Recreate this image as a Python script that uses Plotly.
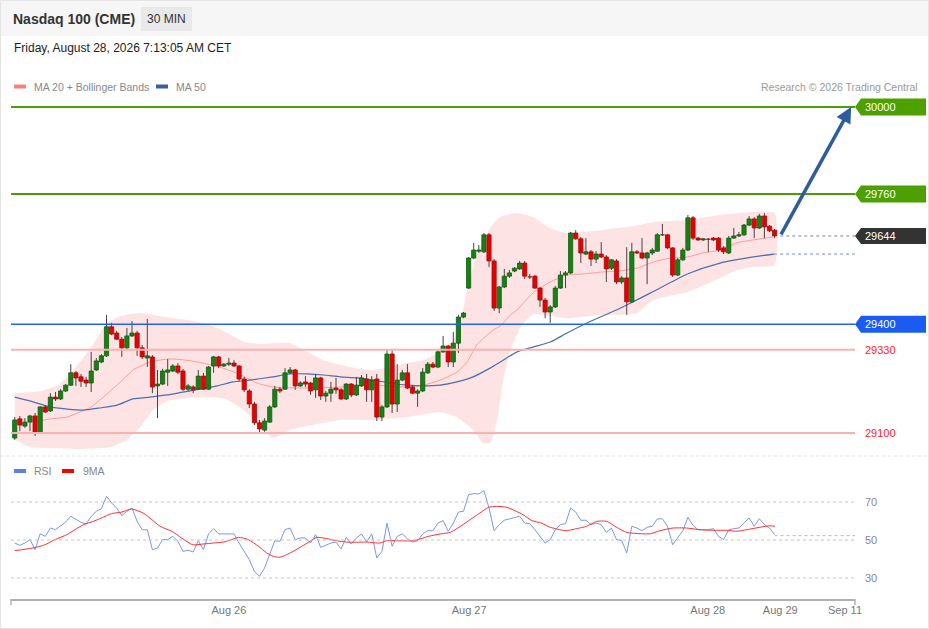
import plotly.graph_objects as go

# ---------------- data ----------------
open_ = [29086, 29139, 29119, 29130, 29147, 29100, 29172, 29161, 29199, 29194,
         29216, 29232, 29266, 29255, 29246, 29238, 29274, 29296, 29313, 29393,
         29376, 29359, 29335, 29368, 29376, 29335, 29307, 29310, 29230, 29235,
         29268, 29271, 29285, 29271, 29221, 29227, 29221, 29257, 29221, 29285,
         29310, 29285, 29290, 29293, 29285, 29249, 29216, 29180, 29128, 29108,
         29130, 29172, 29221, 29221, 29266, 29274, 29230, 29241, 29238, 29219,
         29252, 29202, 29210, 29224, 29219, 29194, 29235, 29205, 29230, 29249,
         29219, 29249, 29144, 29172, 29318, 29180, 29246, 29266, 29227, 29210,
         29216, 29266, 29290, 29282, 29324, 29340, 29296, 29348, 29420, 29500,
         29583, 29602, 29600, 29647, 29575, 29445, 29503, 29533, 29547, 29553,
         29569, 29533, 29533, 29500, 29467, 29434, 29448, 29500, 29536, 29542,
         29652, 29636, 29594, 29600, 29580, 29594, 29586, 29555, 29575, 29517,
         29528, 29462, 29600, 29597, 29583, 29597, 29602, 29647, 29647, 29611,
         29536, 29578, 29605, 29694, 29638, 29633, 29636, 29638, 29638, 29611,
         29597, 29638, 29644, 29647, 29674, 29691, 29666, 29699, 29671, 29660]
high = [29144, 29147, 29141, 29150, 29155, 29174, 29177, 29210, 29213, 29221,
        29235, 29290, 29271, 29263, 29255, 29324, 29307, 29318, 29426, 29404,
        29382, 29365, 29390, 29409, 29382, 29343, 29415, 29315, 29274, 29277,
        29304, 29290, 29293, 29277, 29235, 29232, 29274, 29266, 29285, 29313,
        29313, 29293, 29307, 29301, 29288, 29255, 29221, 29186, 29136, 29141,
        29177, 29230, 29227, 29279, 29282, 29277, 29243, 29257, 29241, 29263,
        29255, 29216, 29241, 29252, 29224, 29238, 29238, 29255, 29260, 29263,
        29257, 29263, 29177, 29329, 29332, 29290, 29274, 29290, 29232, 29221,
        29279, 29296, 29296, 29329, 29368, 29343, 29379, 29426, 29434, 29586,
        29625, 29619, 29652, 29652, 29580, 29506, 29553, 29550, 29558, 29575,
        29575, 29539, 29536, 29503, 29473, 29453, 29506, 29547, 29547, 29655,
        29660, 29641, 29638, 29605, 29602, 29627, 29591, 29580, 29580, 29533,
        29613, 29625, 29605, 29638, 29600, 29611, 29652, 29677, 29649, 29613,
        29583, 29611, 29702, 29699, 29641, 29638, 29638, 29641, 29641, 29616,
        29644, 29666, 29655, 29677, 29699, 29696, 29705, 29707, 29674, 29663]
low = [29081, 29105, 29114, 29105, 29092, 29097, 29155, 29158, 29188, 29191,
       29213, 29230, 29230, 29227, 29227, 29213, 29271, 29293, 29310, 29370,
       29357, 29310, 29332, 29365, 29313, 29304, 29282, 29210, 29141, 29232,
       29230, 29268, 29263, 29216, 29216, 29210, 29219, 29219, 29219, 29266,
       29279, 29282, 29285, 29282, 29243, 29213, 29169, 29122, 29103, 29103,
       29128, 29169, 29210, 29219, 29263, 29219, 29227, 29227, 29205, 29197,
       29191, 29186, 29186, 29208, 29191, 29191, 29199, 29202, 29227, 29186,
       29186, 29133, 29133, 29169, 29155, 29158, 29243, 29221, 29208, 29172,
       29213, 29263, 29279, 29279, 29321, 29282, 29282, 29321, 29417, 29498,
       29580, 29597, 29597, 29558, 29437, 29431, 29500, 29528, 29544, 29550,
       29525, 29525, 29498, 29448, 29417, 29404, 29445, 29498, 29500, 29539,
       29633, 29569, 29591, 29561, 29569, 29583, 29517, 29550, 29511, 29511,
       29426, 29459, 29594, 29580, 29511, 29591, 29600, 29644, 29608, 29531,
       29533, 29575, 29602, 29633, 29630, 29630, 29600, 29630, 29600, 29594,
       29594, 29636, 29641, 29644, 29671, 29638, 29663, 29638, 29655, 29638]
close = [29136, 29122, 29130, 29147, 29100, 29172, 29158, 29199, 29194, 29216,
         29232, 29266, 29252, 29243, 29238, 29271, 29299, 29313, 29393, 29373,
         29359, 29335, 29368, 29376, 29335, 29310, 29313, 29227, 29235, 29271,
         29274, 29285, 29268, 29221, 29230, 29219, 29257, 29221, 29282, 29310,
         29285, 29290, 29293, 29285, 29249, 29219, 29180, 29128, 29111, 29133,
         29172, 29221, 29216, 29266, 29274, 29230, 29238, 29235, 29216, 29252,
         29202, 29210, 29221, 29219, 29194, 29235, 29205, 29232, 29252, 29219,
         29246, 29144, 29172, 29318, 29180, 29246, 29266, 29224, 29210, 29216,
         29268, 29290, 29282, 29324, 29340, 29296, 29348, 29420, 29431, 29583,
         29605, 29605, 29647, 29575, 29445, 29503, 29533, 29542, 29555, 29569,
         29533, 29531, 29500, 29467, 29434, 29448, 29500, 29536, 29542, 29652,
         29636, 29597, 29600, 29580, 29594, 29586, 29553, 29578, 29517, 29528,
         29462, 29600, 29597, 29583, 29597, 29605, 29647, 29649, 29611, 29536,
         29578, 29605, 29694, 29638, 29633, 29636, 29635, 29633, 29605, 29600,
         29638, 29644, 29647, 29674, 29691, 29666, 29699, 29669, 29658, 29644]

bb_up_x = [0, 5.2, 8.5, 11.8, 15.0, 18.3, 21.6, 24.8, 28.1, 31.4,
           36.3, 39.7, 42.8, 45.2, 47.7, 50.6, 54.0, 57.3, 60.5, 63.8,
           67.1, 70.3, 73.6, 76.9, 80.1, 83.4, 86.7, 88.7, 90.6, 93.2,
           95.2, 98.5, 101.6, 105.0, 108.3, 111.4, 114.8, 118.1, 121.2, 125.2,
           131.9, 138.3, 144.8, 149]
bb_up = [29210, 29216, 29232, 29279, 29337, 29406, 29426, 29431, 29423, 29417,
         29406, 29390, 29368, 29351, 29346, 29348, 29348, 29324, 29301, 29288,
         29279, 29274, 29282, 29293, 29301, 29324, 29370, 29495, 29591, 29666,
         29696, 29707, 29696, 29666, 29652, 29655, 29660, 29666, 29671, 29682,
         29688, 29702, 29710, 29707]
bb_lo_x = [0, 3.0, 6.9, 13.4, 18.7, 22.0, 24.6, 27.1, 29.9, 34.4,
           37.9, 41.3, 44.4, 47.7, 50.6, 54.0, 57.3, 60.5, 63.8, 70.3,
           76.9, 83.4, 86.7, 89.9, 91.8, 93.2, 94.6, 95.8, 97.2, 99.1,
           101.6, 108.3, 114.8, 118.7, 122.0, 125.2, 131.9, 138.3, 141.6, 144.8,
           149]
bb_lo = [29081, 29061, 29058, 29056, 29061, 29081, 29116, 29163, 29188, 29197,
         29199, 29194, 29169, 29128, 29086, 29108, 29119, 29128, 29136, 29136,
         29144, 29158, 29144, 29108, 29072, 29072, 29136, 29246, 29329, 29390,
         29428, 29417, 29426, 29426, 29431, 29467, 29489, 29528, 29550, 29558,
         29564]
ma20_x = [3.6, 7.1, 10.3, 11.8, 15.0, 16.7, 18.3, 21.6, 23.2, 24.8,
          26.5, 29.9, 31.4, 34.6, 37.9, 41.3, 44.4, 47.5, 50.6, 57.3,
          63.8, 70.3, 76.9, 80.1, 83.4, 86.7, 88.7, 90.6, 93.8, 95.2,
          97.2, 98.5, 101.6, 105.0, 108.3, 111.4, 114.8, 118.1, 122.0, 125.2,
          128.5, 131.9, 135.0, 138.3, 141.6, 144.8, 148.7]
ma20 = [29130, 29139, 29144, 29152, 29172, 29191, 29210, 29252, 29274, 29285,
        29296, 29304, 29304, 29299, 29290, 29277, 29260, 29238, 29227, 29224,
        29227, 29232, 29227, 29232, 29246, 29268, 29296, 29343, 29384, 29395,
        29426, 29440, 29486, 29517, 29536, 29539, 29544, 29547, 29555, 29572,
        29583, 29586, 29597, 29605, 29625, 29633, 29641]
ma50_x = [0, 3.6, 6.9, 10.3, 13.4, 16.7, 20.1, 23.2, 26.5, 29.9,
          33.0, 36.3, 39.7, 42.8, 46.1, 50.6, 54.0, 57.3, 60.5, 63.8,
          67.1, 70.3, 73.6, 76.9, 80.1, 83.4, 86.7, 89.9, 93.2, 95.2,
          98.5, 101.6, 105.0, 108.3, 111.4, 114.8, 118.1, 121.2, 124.6, 131.9,
          138.3, 144.8, 148.9]
ma50 = [29199, 29186, 29172, 29166, 29163, 29169, 29177, 29194, 29199, 29205,
        29213, 29221, 29230, 29241, 29246, 29255, 29263, 29263, 29260, 29255,
        29252, 29246, 29238, 29232, 29230, 29232, 29241, 29255, 29279, 29296,
        29324, 29337, 29351, 29376, 29398, 29420, 29440, 29462, 29486, 29539,
        29569, 29586, 29594]

rsi = [48.4, 47.2, 48.4, 50.2, 44.9, 53.3, 51.9, 56.3, 55.4, 57.7,
       59.5, 62.5, 60.7, 59.3, 58.4, 62.5, 65.1, 66.5, 73.0, 69.5,
       66.8, 62.8, 65.1, 66.8, 59.8, 55.4, 55.4, 44.9, 45.8, 50.2,
       50.2, 51.9, 49.3, 44.0, 44.6, 43.7, 49.6, 44.9, 53.2, 56.0,
       53.2, 53.2, 53.5, 53.2, 48.4, 44.0, 39.6, 33.5, 30.9, 35.3,
       42.3, 49.6, 49.3, 55.4, 56.3, 50.2, 51.1, 51.1, 48.4, 52.8,
       46.1, 47.2, 48.4, 48.9, 45.3, 51.4, 47.9, 51.1, 53.2, 48.9,
       53.2, 40.5, 44.0, 58.9, 46.7, 51.9, 53.2, 50.7, 48.9, 49.6,
       53.2, 54.9, 54.9, 58.9, 60.2, 54.6, 58.9, 64.7, 65.1, 73.9,
       74.4, 74.2, 76.0, 66.8, 54.9, 58.1, 60.4, 61.1, 61.6, 62.5,
       58.9, 58.6, 55.4, 51.9, 48.4, 50.2, 55.4, 58.1, 58.6, 66.8,
       64.7, 60.4, 60.4, 58.1, 58.9, 58.1, 54.0, 56.3, 50.2, 49.8,
       43.2, 57.2, 56.3, 54.9, 56.7, 57.2, 61.1, 61.2, 57.2, 47.5,
       51.4, 54.9, 61.9, 57.7, 55.4, 55.4, 55.4, 56.0, 51.9, 50.2,
       55.4, 56.0, 56.3, 58.9, 61.6, 57.2, 61.2, 58.1, 56.3, 52.8]
rsi_ma_x = [0, 3.6, 5.9, 7.9, 10.2, 11.8, 13.5, 15.4, 17.0, 19.0,
            21.0, 22.9, 25.2, 26.9, 28.5, 30.8, 32.7, 34.9, 37.0, 38.9,
            40.9, 42.5, 43.9, 45.8, 47.8, 49.4, 50.7, 52.0, 53.3, 54.6,
            56.3, 57.9, 59.2, 61.2, 63.1, 65.1, 67.0, 69.0, 71.6, 72.9,
            75.5, 78.2, 81.1, 83.7, 85.4, 87.3, 89.3, 91.2, 92.9, 94.5,
            96.5, 98.1, 99.7, 101.4, 103.3, 104.9, 106.9, 108.2, 110.2, 112.1,
            114.1, 116.1, 118.0, 120.0, 122.6, 124.6, 126.5, 129.1, 131.7, 134.4,
            137.0, 139.6, 141.6, 143.5, 146.1, 148.1, 149.1]
rsi_ma = [44.4, 45.8, 47.5, 50.2, 52.8, 55.4, 58.1, 59.8, 61.6, 63.9,
          64.7, 66.3, 64.2, 60.7, 57.2, 54.6, 51.1, 47.5, 47.9, 48.4,
          48.9, 50.2, 51.4, 50.2, 46.7, 43.2, 41.4, 40.9, 42.3, 44.0,
          46.7, 49.3, 51.4, 50.7, 49.6, 48.9, 48.8, 48.9, 48.4, 49.6,
          49.6, 49.6, 51.9, 53.3, 54.0, 57.0, 60.7, 64.2, 67.2, 67.7,
          67.2, 65.4, 63.3, 60.2, 58.9, 56.8, 55.4, 54.9, 56.0, 57.2,
          59.8, 59.8, 56.7, 54.0, 53.3, 53.3, 54.9, 56.3, 56.3, 55.4,
          55.1, 55.1, 54.6, 55.4, 56.7, 57.5, 57.2]

tick_pos = [42.0, 89.1, 135.9, 150.1, 162.8]
tick_text = ["Aug 26", "Aug 27", "Aug 28", "Aug 29", "Sep 11"]

target = 30000
tag_levels = [30000, 29760, 29400]
tag_colors = ["#4ca000", "#4ca000", "#1a5cf2"]
line_colors = ["#4c9e08", "#4c9e08", "#2462f0"]
line_widths = [2, 2, 1.5]
sup_levels = [29330, 29100]

x = list(range(len(close)))

# ---------------- geometry ----------------
W, H = 929, 629
PL, PR, PT, PB = 11, 855, 95, 599
def px(p): return (p - PL) / (PR - PL)
def py(p): return (PB - p) / (PB - PT)

X_RANGE = [-0.725, 164.76]
Y_RANGE = [29039.2, 30033.1]
RSI_RANGE = [18.95, 92.1]
FONT = "Liberation Sans, Arial, sans-serif"
HALF_BODY = 0.41

fig = go.Figure()

# Bollinger band area
fig.add_trace(go.Scatter(
    x=bb_up_x + bb_lo_x[::-1], y=bb_up + bb_lo[::-1],
    fill="toself", fillcolor="rgba(252,200,200,0.5)", mode="lines",
    line=dict(width=0, shape="spline", smoothing=0.5), hoverinfo="skip"))

# moving averages (below candles)
fig.add_trace(go.Scatter(x=ma20_x, y=ma20, mode="lines",
    line=dict(color="#ff9a9a", width=1, shape="spline", smoothing=0.6), hoverinfo="skip"))
fig.add_trace(go.Scatter(x=ma50_x, y=ma50, mode="lines",
    line=dict(color="#4d6fae", width=1.2, shape="spline", smoothing=0.6), hoverinfo="skip"))

# dotted extensions
fig.add_trace(go.Scatter(x=[x[-1] + 1.1, X_RANGE[1]], y=[close[-1], close[-1]], mode="lines",
    line=dict(color="#888888", width=1, dash="dot"), hoverinfo="skip"))
fig.add_trace(go.Scatter(x=[ma50_x[-1], X_RANGE[1]], y=[ma50[-1], ma50[-1]], mode="lines",
    line=dict(color="#6f8fcf", width=1, dash="dot"), hoverinfo="skip"))

# candles: wicks
wick_x, wick_y = [], []
for i in x:
    wick_x += [i, i, None]
    wick_y += [low[i], high[i], None]
fig.add_trace(go.Scatter(x=wick_x, y=wick_y, mode="lines",
    line=dict(color="#4a4242", width=1), hoverinfo="skip"))

# candles: bodies (filled rectangles)
def bodies(is_up):
    bx, by = [], []
    for i, o, c in zip(x, open_, close):
        if (c >= o) != is_up:
            continue
        lo_, hi_ = min(o, c), max(o, c)
        if hi_ - lo_ < 1.5:
            hi_ = lo_ + 1.5
        bx += [i - HALF_BODY, i + HALF_BODY, i + HALF_BODY, i - HALF_BODY, i - HALF_BODY, None]
        by += [lo_, lo_, hi_, hi_, lo_, None]
    return bx, by

ux, uy = bodies(True)
dx, dy = bodies(False)
fig.add_trace(go.Scatter(x=ux, y=uy, mode="lines", fill="toself", fillcolor="#168216",
    line=dict(color="#135a13", width=0.8), hoverinfo="skip"))
fig.add_trace(go.Scatter(x=dx, y=dy, mode="lines", fill="toself", fillcolor="#e80000",
    line=dict(color="#a00e0e", width=0.8), hoverinfo="skip"))

# RSI panel
fig.add_trace(go.Scatter(x=x, y=rsi, mode="lines", xaxis="x2", yaxis="y2",
    line=dict(color="#7b96ec", width=1), hoverinfo="skip"))
fig.add_trace(go.Scatter(x=rsi_ma_x, y=rsi_ma, mode="lines", xaxis="x2", yaxis="y2",
    line=dict(color="#ff3030", width=1, shape="spline", smoothing=0.6), hoverinfo="skip"))
fig.add_trace(go.Scatter(x=[x[-1], X_RANGE[1]], y=[rsi[-1] - 0.5, rsi[-1] - 0.5], mode="lines",
    xaxis="x2", yaxis="y2", line=dict(color="#a9b9f0", width=1, dash="dot"), hoverinfo="skip"))

shapes = []
annots = []

# header and frame
shapes.append(dict(type="rect", xref="paper", yref="paper", x0=px(0), x1=px(929), y0=py(36), y1=py(0),
                   fillcolor="#f6f6f6", line=dict(width=0), layer="below"))
shapes.append(dict(type="rect", xref="paper", yref="paper", x0=px(141), x1=px(192), y0=py(31), y1=py(7),
                   fillcolor="#e9e9e9", line=dict(width=0), layer="below"))
shapes.append(dict(type="rect", xref="paper", yref="paper", x0=px(0.5), x1=px(928.5), y0=py(628.5), y1=py(0.5),
                   fillcolor="rgba(0,0,0,0)", line=dict(width=1, color="#e4e4e4")))
shapes.append(dict(type="line", xref="paper", yref="paper", x0=px(0), x1=px(929), y0=py(456), y1=py(456),
                   line=dict(width=1, color="#e2e2e2", dash="dot")))

annots.append(dict(xref="paper", yref="paper", x=px(11), y=py(19), xanchor="left", yanchor="middle",
                   text="<b>Nasdaq 100 (CME)</b>", showarrow=False, font=dict(size=14, color="#333333")))
annots.append(dict(xref="paper", yref="paper", x=px(166.5), y=py(19), xanchor="center", yanchor="middle",
                   text="30 MIN", showarrow=False, font=dict(size=12, color="#333333")))
annots.append(dict(xref="paper", yref="paper", x=px(12), y=py(48), xanchor="left", yanchor="middle",
                   text="Friday, August 28, 2026 7:13:05 AM CET", showarrow=False, font=dict(size=12, color="#222222")))

# legend (main)
shapes.append(dict(type="rect", xref="paper", yref="paper", x0=px(14), x1=px(26), y0=py(88.5), y1=py(84.5),
                   fillcolor="#f88080", line=dict(width=0)))
annots.append(dict(xref="paper", yref="paper", x=px(32), y=py(86.5), xanchor="left", yanchor="middle",
                   text="MA 20 + Bollinger Bands", showarrow=False, font=dict(size=10.5, color="#888888")))
shapes.append(dict(type="rect", xref="paper", yref="paper", x0=px(156), x1=px(168), y0=py(88.5), y1=py(84.5),
                   fillcolor="#3a5fa0", line=dict(width=0)))
annots.append(dict(xref="paper", yref="paper", x=px(174), y=py(86.5), xanchor="left", yanchor="middle",
                   text="MA 50", showarrow=False, font=dict(size=10.5, color="#888888")))
annots.append(dict(xref="paper", yref="paper", x=px(920), y=py(86.5), xanchor="right", yanchor="middle",
                   text="Research © 2026 Trading Central", showarrow=False, font=dict(size=10.5, color="#9a9a9a")))

# legend (RSI)
shapes.append(dict(type="rect", xref="paper", yref="paper", x0=px(14), x1=px(26), y0=py(473), y1=py(469),
                   fillcolor="#5b7fe6", line=dict(width=0)))
annots.append(dict(xref="paper", yref="paper", x=px(32), y=py(471), xanchor="left", yanchor="middle",
                   text="RSI", showarrow=False, font=dict(size=10.5, color="#888888")))
shapes.append(dict(type="rect", xref="paper", yref="paper", x0=px(62), x1=px(74), y0=py(473), y1=py(469),
                   fillcolor="#ff0000", line=dict(width=0)))
annots.append(dict(xref="paper", yref="paper", x=px(81), y=py(471), xanchor="left", yanchor="middle",
                   text="9MA", showarrow=False, font=dict(size=10.5, color="#888888")))

# level lines + tags
for lv, tc, lc, lw in zip(tag_levels, tag_colors, line_colors, line_widths):
    shapes.append(dict(type="line", xref="paper", yref="y", x0=0, x1=1, y0=lv, y1=lv,
                       line=dict(color=lc, width=lw)))
    shapes.append(dict(type="path", xref="paper", yref="y", xsizemode="pixel", ysizemode="pixel",
                       xanchor=1, yanchor=lv, path="M0,0 L6,8.5 L71,8.5 L71,-8.5 L6,-8.5 Z",
                       fillcolor=tc, line=dict(width=0)))
    annots.append(dict(xref="paper", yref="y", x=px(863), y=lv, xanchor="left", yanchor="middle",
                       text=str(lv), showarrow=False, font=dict(size=11, color="white")))
for lv in sup_levels:
    shapes.append(dict(type="line", xref="paper", yref="y", x0=0, x1=1, y0=lv, y1=lv,
                       line=dict(color="#f8b2b2", width=2)))
    annots.append(dict(xref="paper", yref="y", x=px(863), y=lv, xanchor="left", yanchor="middle",
                       text=str(lv), showarrow=False, font=dict(size=11, color="#ff2424")))
# last price tag
shapes.append(dict(type="path", xref="paper", yref="y", xsizemode="pixel", ysizemode="pixel",
                   xanchor=1, yanchor=close[-1], path="M0,0 L6,8 L71,8 L71,-8 L6,-8 Z",
                   fillcolor="#333333", line=dict(width=0)))
annots.append(dict(xref="paper", yref="y", x=px(863), y=close[-1], xanchor="left", yanchor="middle",
                   text=str(close[-1]), showarrow=False, font=dict(size=11, color="white")))

# arrow to target
annots.append(dict(xref="x", yref="y", axref="x", ayref="y", x=164.0, y=target,
                   ax=x[-1] + 1.1, ay=close[-1], text="", showarrow=True,
                   arrowhead=2, arrowsize=0.9, arrowwidth=3.5, arrowcolor="#2e5c9c", standoff=0))

# RSI grid + labels
for v in [70, 50, 30]:
    shapes.append(dict(type="line", xref="paper", yref="y2", x0=0, x1=1, y0=v, y1=v,
                       line=dict(color="#c4c4c4", width=1, dash="dot")))
    annots.append(dict(xref="paper", yref="y2", x=px(863), y=v, xanchor="left", yanchor="middle",
                       text=str(v), showarrow=False, font=dict(size=11, color="#888888")))

# axis end ticks
for xe in [0, 1]:
    shapes.append(dict(type="line", xref="paper", yref="paper", x0=xe, x1=xe, y0=py(599), y1=py(605),
                       line=dict(color="#b0b0b0", width=1.5)))

fig.update_layout(
    width=W, height=H,
    margin=dict(l=PL, r=W - PR, t=PT, b=H - PB, pad=0),
    paper_bgcolor="white", plot_bgcolor="rgba(0,0,0,0)",
    showlegend=False,
    font=dict(family=FONT),
    xaxis=dict(domain=[0, 1], range=X_RANGE, visible=False, anchor="y"),
    yaxis=dict(domain=[py(455), 1], range=Y_RANGE, visible=False, anchor="x"),
    xaxis2=dict(domain=[0, 1], range=X_RANGE, anchor="y2", showline=True, linecolor="#b0b0b0",
                linewidth=2, tickvals=tick_pos, ticktext=tick_text, ticks="", showgrid=False,
                zeroline=False, tickfont=dict(size=11, color="#777777", family=FONT)),
    yaxis2=dict(domain=[0, py(460)], range=RSI_RANGE, visible=False, anchor="x2"),
    shapes=shapes, annotations=annots,
)

fig.write_html("out.html", config={"displayModeBar": False},
               post_script="document.body.style.margin='0px';document.body.style.overflow='hidden';")
